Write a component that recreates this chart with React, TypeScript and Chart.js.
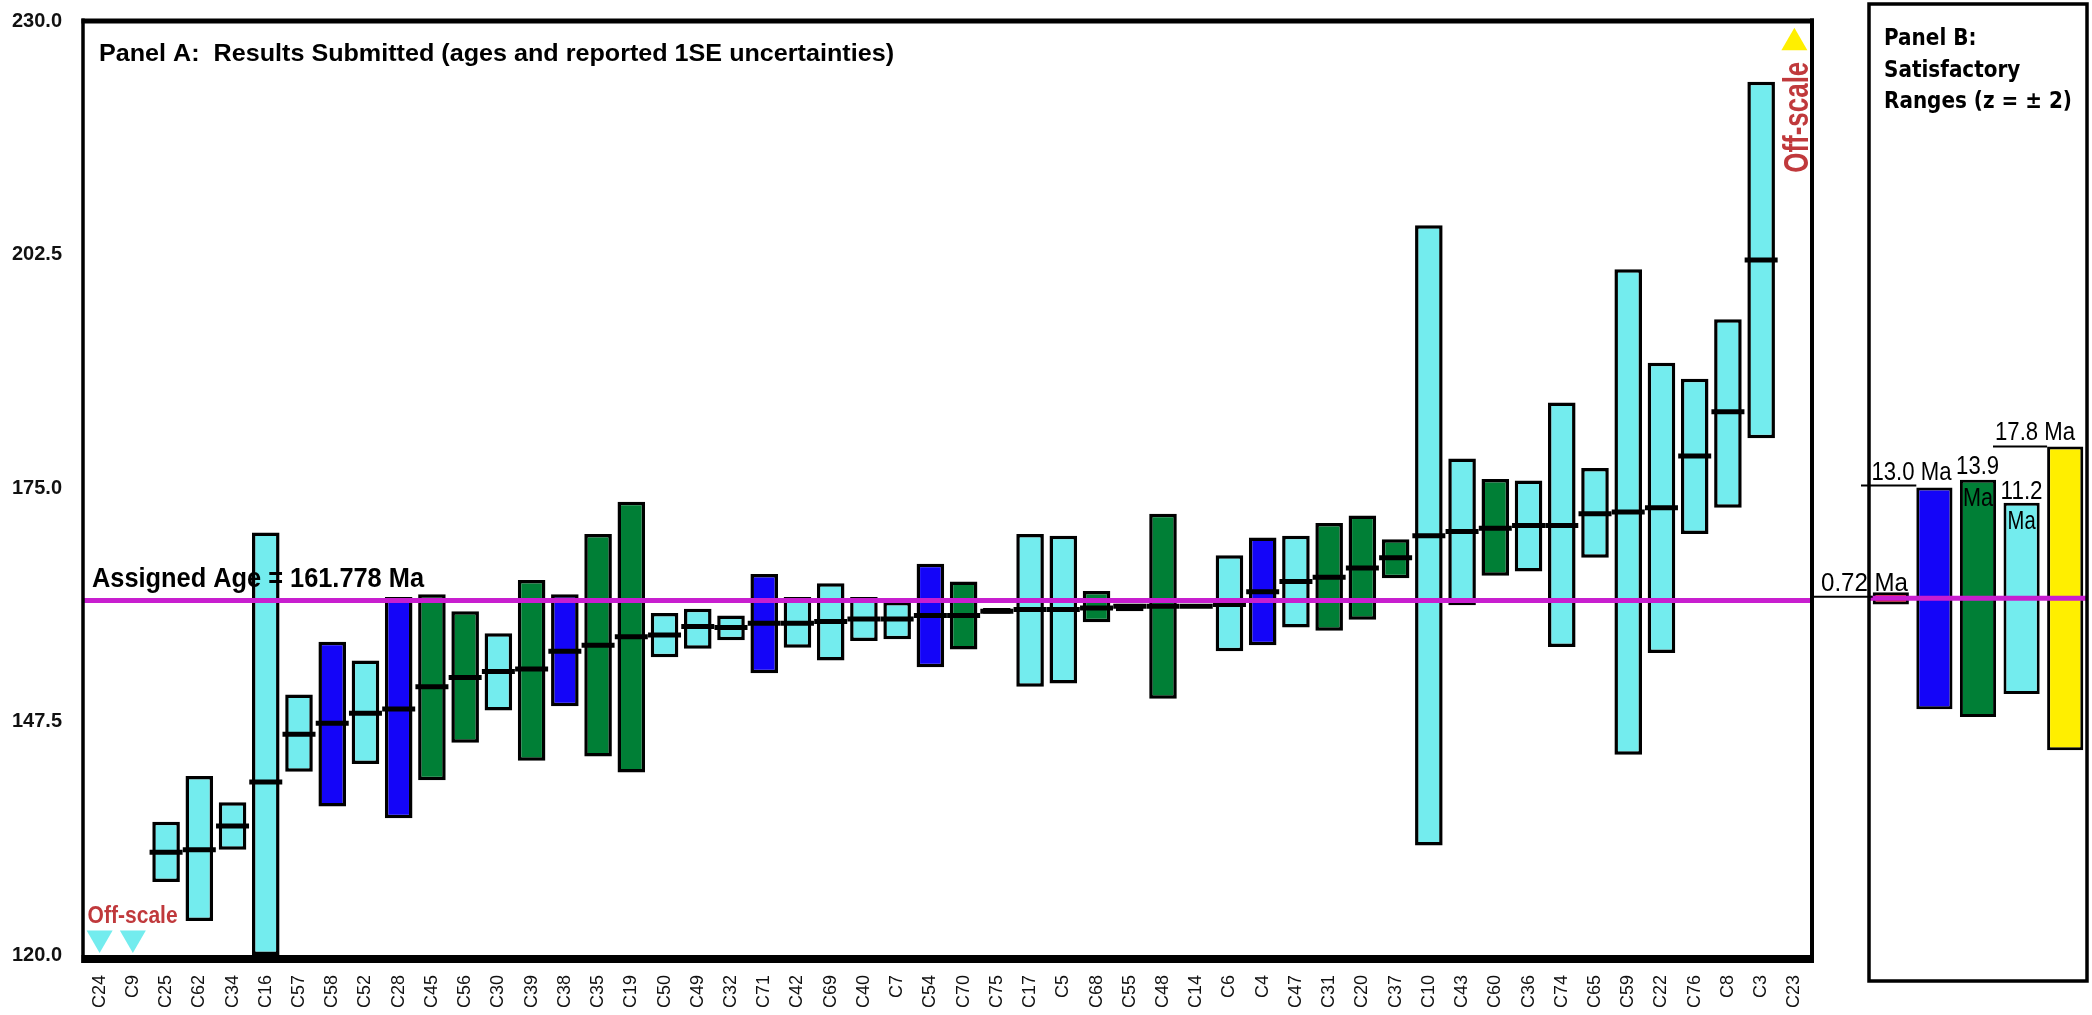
import React, { useEffect, useRef } from 'react';
import { Chart, registerables } from 'chart.js';
Chart.register(...registerables);

// ---------------- DATA ----------------
const categories = [
  'C24', 'C9', 'C25', 'C62', 'C34', 'C16', 'C57', 'C58', 'C52', 'C28', 'C45', 'C56', 'C30',
  'C39', 'C38', 'C35', 'C19', 'C50', 'C49', 'C32', 'C71', 'C42', 'C69', 'C40', 'C7', 'C54',
  'C70', 'C75', 'C17', 'C5', 'C68', 'C55', 'C48', 'C14', 'C6', 'C4', 'C47', 'C31', 'C20',
  'C37', 'C10', 'C43', 'C60', 'C36', 'C74', 'C65', 'C59', 'C22', 'C76', 'C8', 'C3', 'C23',
];

// lower / upper end of each reported range (null = off-scale)
const lowValues = [
  null, null, 128.6, 124.0, 132.4, 120.0, 141.6, 137.5, 142.5, 136.1, 140.6, 145.0, 148.8,
  142.9, 149.3, 143.4, 141.5, 155.1, 156.1, 157.1, 153.2, 156.2, 154.7, 157.0, 157.2, 153.9,
  156.0, 160.2, 151.6, 152.0, 159.2, 160.5, 150.2, 160.9, 155.8, 156.5, 158.6, 158.2, 159.5,
  164.4, 132.9, 161.2, 164.7, 165.2, 156.3, 166.8, 143.6, 155.6, 169.6, 172.7, 180.9, null,
];
const highValues = [
  null, null, 135.7, 141.1, 138.0, 169.8, 150.7, 156.9, 154.7, 162.2, 162.5, 160.5, 157.9,
  164.2, 162.5, 169.6, 173.4, 160.3, 160.8, 160.0, 164.9, 162.2, 163.8, 162.2, 161.6, 166.1,
  164.0, 160.9, 169.6, 169.4, 162.9, 161.4, 172.0, 161.3, 167.1, 169.2, 169.4, 170.9, 171.8,
  169.0, 206.0, 178.5, 176.1, 175.9, 185.1, 177.4, 200.8, 189.8, 187.9, 194.9, 222.9, null,
];
const meanValues = [
  null, null, 132.1, 132.4, 135.2, 140.4, 146.0, 147.3, 148.5, 149.0, 151.6, 152.7, 153.4,
  153.7, 155.8, 156.5, 157.5, 157.7, 158.7, 158.6, 159.1, 159.1, 159.3, 159.6, 159.6, 160.0,
  160.0, 160.5, 160.7, 160.7, 160.9, 161.1, 161.1, 161.1, 161.3, 162.8, 164.0, 164.5, 165.6,
  166.8, 169.4, 169.9, 170.3, 170.6, 170.6, 172.0, 172.2, 172.7, 178.8, 184.0, 201.9, null,
];
// method group of each lab: c = cyan, b = blue, g = green, y = yellow
const methodOf = [
  'c', 'c', 'c', 'c', 'c', 'c', 'c', 'b', 'c', 'b', 'g', 'g', 'c',
  'g', 'b', 'g', 'g', 'c', 'c', 'c', 'b', 'c', 'c', 'c', 'c', 'b',
  'g', 'c', 'c', 'c', 'g', 'c', 'g', 'c', 'c', 'b', 'c', 'g', 'g',
  'g', 'c', 'c', 'g', 'c', 'c', 'c', 'c', 'c', 'c', 'c', 'c', 'y',
];
const offScaleLowLabs = ['C24', 'C9'];
const offScaleLowMark = 122.0;
const offScaleHighLabs = ['C23'];
const offScaleHighMark = 227.5;

const yTickValues = [120, 147.5, 175, 202.5, 230];
const assignedAge = 161.778;

// Panel B: satisfactory ranges (z = ±2)
const panelBMethods = ['r', 'b', 'g', 'c', 'y'];
const panelBHalfRanges = [0.72, 13.0, 13.9, 11.2, 17.8];

// ---------------- STYLE ----------------
const COLORS: Record<string, string> = {
  c: '#73ecee',
  b: '#1405f8',
  g: '#007f36',
  y: '#ffef00',
  r: '#e0001f',
};
const MAGENTA = '#c81ecf';
const RED_TEXT = '#c0393c';
const SANS = '"Liberation Sans", Arial, Helvetica, sans-serif';

function fitText(ctx: CanvasRenderingContext2D, text: string, x: number, y: number, w: number,
  font: string, align: CanvasTextAlign = 'left', color = '#000') {
  ctx.save();
  ctx.font = font;
  ctx.fillStyle = color;
  ctx.textBaseline = 'alphabetic';
  const m = ctx.measureText(text).width || 1;
  ctx.translate(x, y);
  ctx.scale(w / m, 1);
  ctx.textAlign = align;
  ctx.fillText(text, 0, 0);
  ctx.restore();
}

function seg(ctx: CanvasRenderingContext2D, x1: number, y1: number, x2: number, y2: number, w: number, color = '#000') {
  ctx.save();
  ctx.strokeStyle = color;
  ctx.lineWidth = w;
  ctx.beginPath();
  ctx.moveTo(x1, y1);
  ctx.lineTo(x2, y2);
  ctx.stroke();
  ctx.restore();
}

const panelAPlugin = {
  id: 'panelADecor',
  afterDatasetsDraw(chart: any) {
    const { ctx, chartArea: a, scales } = chart;
    const y = scales.y;
    const yA = y.getPixelForValue(assignedAge);
    // assigned age line
    seg(ctx, a.left, yA, a.right, yA, 5, MAGENTA);
    // frame
    seg(ctx, a.left, a.top - 3, a.left, a.bottom + 8, 3.5);
    seg(ctx, a.left - 1.5, a.top - 0.5, a.right + 3, a.top - 0.5, 5);
    seg(ctx, a.right + 1, a.top - 3, a.right + 1, a.bottom + 6, 4);
    seg(ctx, a.left - 1.5, a.bottom + 4, a.right + 3, a.bottom + 4, 8);
    // title
    fitText(ctx, 'Panel A:  Results Submitted (ages and reported 1SE uncertainties)', a.left + 16, a.top + 39, 795,
      `bold 24px ${SANS}`);
    // assigned age label
    fitText(ctx, 'Assigned Age = 161.778 Ma', a.left + 9, yA - 13, 332, `bold 28px ${SANS}`);
    // off-scale labels
    const lowMeta = chart.getDatasetMeta(2);
    const firstLow = lowMeta.data[categories.indexOf(offScaleLowLabs[0])];
    if (firstLow) {
      fitText(ctx, 'Off-scale', firstLow.x - 12, firstLow.y - 15, 90, `bold 24px ${SANS}`, 'left', RED_TEXT);
    }
    const highMeta = chart.getDatasetMeta(3);
    const hi = highMeta.data[categories.indexOf(offScaleHighLabs[0])];
    if (hi) {
      ctx.save();
      ctx.translate(hi.x + 13.5, hi.y + 130);
      ctx.rotate(-Math.PI / 2);
      fitText(ctx, 'Off-scale', 0, 0, 111, `bold 35px ${SANS}`, 'left', RED_TEXT);
      ctx.restore();
    }
  },
};

const panelBPlugin = {
  id: 'panelBDecor',
  afterDatasetsDraw(chart: any) {
    const { ctx, chartArea: a, scales } = chart;
    const yA = scales.y.getPixelForValue(assignedAge);
    const bars = chart.getDatasetMeta(0).data;
    const box = (k: number) => {
      const el = bars[k];
      return {
        x: el.x,
        left: el.x - el.width / 2,
        right: el.x + el.width / 2,
        top: Math.min(el.y, el.base),
      };
    };
    // magenta line
    seg(ctx, a.left, yA, a.right, yA, 5, MAGENTA);
    // panel frame
    ctx.save();
    ctx.strokeStyle = '#000';
    ctx.lineWidth = 3.5;
    ctx.strokeRect(a.left, 4, a.right - a.left, 977);
    ctx.restore();
    // title (common horizontal compression so the widest line is 188px)
    ctx.save();
    const tf = 'bold 23px "DejaVu Sans", Verdana, sans-serif';
    ctx.font = tf;
    const s = 188 / (ctx.measureText('Ranges (z = ± 2)').width || 188);
    ctx.restore();
    const titleLines = ['Panel B:', 'Satisfactory', 'Ranges (z = ± 2)'];
    const baselines = [45, 77, 108];
    titleLines.forEach((t, i) => {
      ctx.save();
      ctx.font = tf;
      const w = ctx.measureText(t).width * s;
      ctx.restore();
      fitText(ctx, t, a.left + 15, baselines[i], w, tf);
    });

    const f = `25px ${SANS}`;
    // 0.72 Ma
    const r = box(0);
    seg(ctx, 11, yA - 1.5, r.left, yA - 1.5, 2);
    fitText(ctx, '0.72 Ma', 21, yA - 7, 87, f);
    // 13.0 Ma
    const bl = box(1);
    seg(ctx, 61, bl.top - 2, bl.left, bl.top - 2, 2);
    fitText(ctx, '13.0 Ma', bl.right - 1, bl.top - 7, 80, f, 'right');
    // 13.9 Ma
    const gr = box(2);
    fitText(ctx, '13.9', gr.right + 3, gr.top - 6, 43, f, 'right');
    fitText(ctx, 'Ma', gr.x, gr.top + 26, 30, f, 'center');
    // 11.2 Ma
    const cy = box(3);
    fitText(ctx, '11.2', cy.x, cy.top - 4, 42, f, 'center');
    fitText(ctx, 'Ma', cy.x, cy.top + 26, 28, f, 'center');
    // 17.8 Ma
    const ye = box(4);
    seg(ctx, 193, ye.top, ye.left, ye.top, 2);
    fitText(ctx, '17.8 Ma', 195, ye.top - 6, 80, f);
  },
};

export default function App() {
  const aRef = useRef<HTMLCanvasElement>(null);
  const bRef = useRef<HTMLCanvasElement>(null);

  useEffect(() => {
    const yScale = {
      min: 120,
      max: 230,
      afterBuildTicks: (s: any) => {
        s.ticks = yTickValues.map((v) => ({ value: v }));
      },
    };

    const chartA = new Chart(aRef.current as HTMLCanvasElement, {
      type: 'bar',
      data: {
        labels: categories,
        datasets: [
          {
            type: 'bar',
            data: categories.map((_, i) =>
              lowValues[i] == null ? null : [lowValues[i] as number, highValues[i] as number]) as any,
            backgroundColor: methodOf.map((m) => COLORS[m]),
            borderColor: '#000',
            borderWidth: 3.5,
            borderSkipped: false,
            barPercentage: 0.83,
            categoryPercentage: 1,
            order: 4,
          } as any,
          {
            type: 'line',
            data: meanValues as any,
            showLine: false,
            pointStyle: 'line',
            pointRadius: 16.5,
            pointHoverRadius: 16.5,
            pointBorderWidth: 5,
            pointBorderColor: '#000',
            borderColor: '#000',
            order: 1,
          } as any,
          {
            type: 'line',
            data: categories.map((c) => (offScaleLowLabs.includes(c) ? offScaleLowMark : null)) as any,
            showLine: false,
            pointStyle: 'triangle',
            pointRotation: 180,
            pointRadius: 15,
            pointHoverRadius: 15,
            pointBorderWidth: 0,
            pointBackgroundColor: COLORS.c,
            order: 2,
          } as any,
          {
            type: 'line',
            data: categories.map((c) => (offScaleHighLabs.includes(c) ? offScaleHighMark : null)) as any,
            showLine: false,
            pointStyle: 'triangle',
            pointRadius: 15,
            pointHoverRadius: 15,
            pointBorderWidth: 0,
            pointBackgroundColor: COLORS.y,
            order: 2,
          } as any,
        ],
      },
      options: {
        responsive: false,
        devicePixelRatio: 1,
        animation: false,
        events: [],
        layout: { padding: { left: 0, right: 2092 - 1811, top: 16, bottom: 0 } },
        plugins: { legend: { display: false }, tooltip: { enabled: false }, title: { display: false } },
        scales: {
          x: {
            type: 'category',
            offset: true,
            grid: { display: false, drawTicks: false },
            border: { display: false },
            ticks: {
              autoSkip: false,
              minRotation: 90,
              maxRotation: 90,
              padding: 20,
              color: '#111',
              font: { family: SANS, size: 18 },
            },
            afterFit: (s: any) => {
              s.height = 60;
              s.paddingLeft = 0;
              s.paddingRight = 0;
            },
          },
          y: {
            ...yScale,
            grid: { display: false, drawTicks: false },
            border: { display: false },
            ticks: {
              padding: 21,
              color: '#111',
              font: { family: SANS, size: 20, weight: 'bold' },
              callback: (v: any) => Number(v).toFixed(1),
            },
            afterFit: (s: any) => {
              s.width = 83;
              s.paddingTop = 0;
              s.paddingBottom = 0;
            },
          },
        },
      } as any,
      plugins: [panelAPlugin],
    });

    const chartB = new Chart(bRef.current as HTMLCanvasElement, {
      type: 'bar',
      data: {
        labels: panelBMethods,
        datasets: [
          {
            data: panelBHalfRanges.map((h) => [assignedAge - h, assignedAge + h]) as any,
            backgroundColor: panelBMethods.map((m) => COLORS[m]),
            borderColor: '#000',
            borderWidth: 3,
            borderSkipped: false,
            barPercentage: 0.83,
            categoryPercentage: 1,
          } as any,
        ],
      },
      options: {
        responsive: false,
        devicePixelRatio: 1,
        animation: false,
        events: [],
        layout: { padding: { left: 69, right: 5, top: 16, bottom: 60 } },
        plugins: { legend: { display: false }, tooltip: { enabled: false } },
        scales: {
          x: { display: false, offset: true },
          y: { ...yScale, display: false },
        },
      } as any,
      plugins: [panelBPlugin],
    });

    return () => {
      chartA.destroy();
      chartB.destroy();
    };
  }, []);

  return (
    <div style={{ position: 'absolute', left: 0, top: 0, width: 2092, height: 1015, background: '#fff', overflow: 'hidden' }}>
      <canvas ref={aRef} width={2092} height={1015} style={{ position: 'absolute', left: 0, top: 0 }} />
      <canvas ref={bRef} width={292} height={1015} style={{ position: 'absolute', left: 1800, top: 0 }} />
    </div>
  );
}
